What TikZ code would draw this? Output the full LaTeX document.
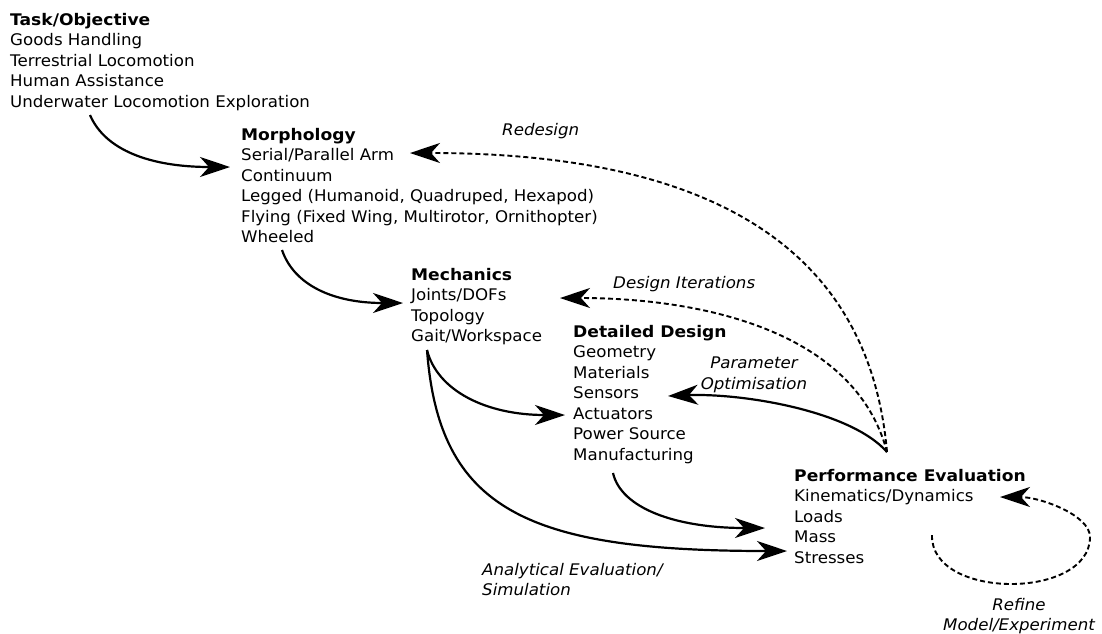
\documentclass[tikz,border=0pt]{standalone}
\usepackage{fontspec}
\setmainfont{DejaVu Sans}[FakeStretch=1.04, BoldFeatures={FakeStretch=1.07}]
\usetikzlibrary{calc,arrows.meta}
\def\drawflow{\draw[line width=2.2pt, -{Stealth[length=30pt,width=20pt,inset=9pt]}]}
\def\drawback{\draw[line width=1.9pt, dash pattern=on 5pt off 3pt, -{Stealth[length=30pt,width=20pt,inset=9pt]}]}
\def\stagenode{\node[anchor=north west, align=left, inner sep=0pt, font=\fontsize{16}{20.5}\selectfont]}
\def\notenode{\node[inner sep=0pt, font=\fontsize{16}{20.5}\selectfont\itshape]}

\begin{document}
\begin{tikzpicture}[x=1pt, y=-1pt]
\useasboundingbox (0,0) rectangle (1102,633);
% stages
\stagenode (task) at (10,13) {\textbf{Task/Objective}\\Goods Handling\\Terrestrial Locomotion\\Human Assistance\\Underwater Locomotion Exploration};
\stagenode (morph) at (241,128) {\textbf{Morphology}\\Serial/Parallel Arm\\Continuum\\Legged (Humanoid, Quadruped, Hexapod)\\Flying (Fixed Wing, Multirotor, Ornithopter)\\Wheeled};
\stagenode (mech) at (411,268) {\textbf{Mechanics}\\Joints/DOFs\\Topology\\Gait/Workspace};
\stagenode (detail) at (573,325) {\textbf{Detailed Design}\\Geometry\\Materials\\Sensors\\Actuators\\Power Source\\Manufacturing};
\stagenode (perf) at (794,469) {\textbf{Performance Evaluation}\\Kinematics/Dynamics\\Loads\\Mass\\Stresses};
% labels
\notenode[anchor=base west] (redesign) at (502,135) {Redesign};
\notenode[anchor=base west] (iter) at (613,288) {Design Iterations};
\notenode[anchor=north, align=center] (param) at (754,357) {Parameter\\Optimisation};
\notenode[anchor=north west, align=left] (anal) at (482,563) {Analytical Evaluation/\\Simulation};
\notenode[anchor=north, align=center] (refine) at (1019,598) {Refine\\Model/Experiment};
% ends of the arrows
\coordinate (task out) at ([shift={(80,102)}]task.north west);
\coordinate (morph in) at ([shift={(-11,39)}]morph.north west);
\coordinate (morph back) at ([shift={(169,25)}]morph.north west);
\coordinate (morph out) at ([shift={(41,122)}]morph.north west);
\coordinate (mech in) at ([shift={(-8,35)}]mech.north west);
\coordinate (mech back) at ([shift={(149,30)}]mech.north west);
\coordinate (mech out) at ([shift={(16,82)}]mech.north west);
\coordinate (detail in) at ([shift={(-8,90)}]detail.north west);
\coordinate (detail back) at ([shift={(95,71)}]detail.north west);
\coordinate (detail out) at ([shift={(40,148)}]detail.north west);
\coordinate (perf in) at ([shift={(-29,59)}]perf.north west);
\coordinate (perf sim) at ([shift={(-7,82)}]perf.north west);
\coordinate (perf top) at ([shift={(93,-17)}]perf.north west);
\coordinate (perf loop) at ([shift={(138,66)}]perf.north west);
\coordinate (perf back) at ([shift={(206,28)}]perf.north west);
% forward flow
\drawflow (task out) .. controls +(15,35) and +(-80,0) .. (morph in);
\drawflow (morph out) .. controls +(12,35) and +(-70,0) .. (mech in);
\drawflow (mech out) .. controls +(10,40) and +(-80,0) .. (detail in);
\drawflow (mech out) .. controls +(12,160) and +(-260,0) .. (perf sim);
\drawflow (detail out) .. controls +(8,35) and +(-90,0) .. (perf in);
% feedback
\drawback (perf top) .. controls +(-20,-230) and +(260,0) .. (morph back);
\drawback (perf top) .. controls +(-32,-122) and +(140,0) .. (mech back);
\drawflow (perf top) .. controls +(-37,-42) and +(72,-3) .. (detail back);
\drawback (perf loop) .. controls +(-2,65) and +(0,63) .. ([shift={(296,68)}]perf.north west)
  .. controls +(0,-22) and +(40,0) .. (perf back);
\end{tikzpicture}
\end{document}
